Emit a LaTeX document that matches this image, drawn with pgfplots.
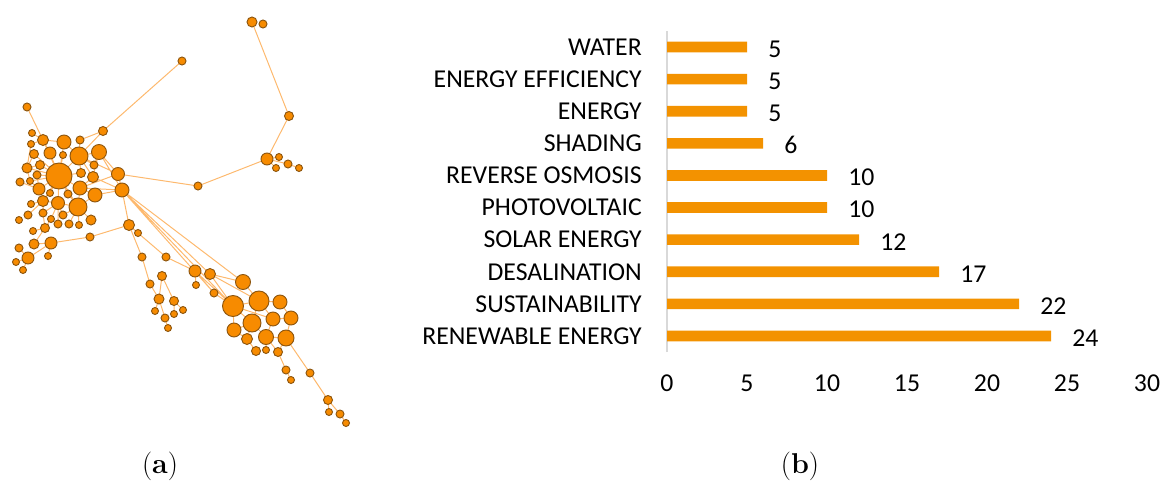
\documentclass[border=0pt]{standalone}
\usepackage{pgfplots}
\pgfplotsset{compat=1.18}
\usepackage{pgfplotstable}
\usepackage{fontspec}
\newfontfamily\calfont{Carlito}
\definecolor{nodefill}{RGB}{247,139,0}
\definecolor{nodedraw}{RGB}{140,85,15}
\definecolor{edgecol}{RGB}{253,185,110}
\definecolor{barcol}{RGB}{243,146,0}
\definecolor{axgray}{RGB}{217,217,217}

\pgfplotstableread{
x y r
27 107 4
103 131 4.5
32 133 3.5
43 140 5.5
64 142 7
80 140 4
31 144 3.5
34 154 4.5
50 153 6
79 156 9
99 152 7.5
63 155 3.5
40 165 4.5
27 168 5
94 165 4
59 176 13
37 175 4
81 173 4.5
93 177 5.5
118 174 6.5
20 182 4
30 181 3.5
39 189 6
80 188 7
50 193 3.5
68 194 4
95 195 7
122 190 7
43 201 5.5
58 203 6.5
78 207 9
31 204 3.5
28 215 4
43 213 4
63 215 4
51 219 3.5
19 220 3.5
91 220 5
58 224 4
69 224 4
79 225 3.5
45 228 4.5
33 231 3.5
129 225 5.5
138 233 3.5
51 243 6
34 244 5
19 248 4
28 258 6
48 256 3.5
16 262 3.5
23 270 3.5
90 237 4
182 61 4
252 22 5
263 24 4
289 116 4.5
267 159 6
279 157 3.5
288 164 4
299 168 3.5
276 168 3.5
198 186 4
142 257 4
166 257 4
162 276 4.5
150 284 4
159 299 5
174 301 4.5
155 311 3.5
165 318 4
174 314 3.5
183 310 3.5
168 328 3.5
195 271 6
210 274 5.5
196 285 3.5
214 293 4
243 282 7.5
233 306 10.5
259 301 10
280 302 7
273 319 7
291 318 7
252 323 9
234 330 7
247 339 5.5
266 337 7.5
286 338 8
256 351 4.5
266 350 3.5
278 352 4.5
286 370 4
291 380 3.5
310 373 4
328 400 4.5
329 412 3.5
340 414 4
346 423 3.5
}\nodetable

\begin{document}
\begin{tikzpicture}
\useasboundingbox (0,0) rectangle (873.75pt,-360.75pt);
\begin{axis}[at={(0pt,0pt)}, anchor=north west, scale only axis,
  width=270pt, height=330pt, xmin=0, xmax=360, ymin=0, ymax=440,
  y dir=reverse, hide axis, clip=false, unbounded coords=jump]
\addplot[edgecol, line width=0.75pt, no marks] coordinates {
(252,22)(289,116)(267,159)(198,186)(118,174) (nan,nan)
(267,159)(288,164)(299,168) (nan,nan)
(279,157)(267,159)(276,168) (nan,nan)
(182,61)(103,131)(79,156)(59,176) (nan,nan)
(103,131)(80,140)(79,156) (nan,nan)
(27,107)(43,140)(59,176) (nan,nan)
(64,142)(59,176)(50,153) (nan,nan)
(63,155)(59,176)(40,165) (nan,nan)
(37,175)(59,176)(81,173) (nan,nan)
(39,189)(59,176)(80,188) (nan,nan)
(50,193)(59,176)(68,194) (nan,nan)
(43,201)(59,176)(58,203) (nan,nan)
(78,207)(59,176)(34,154) (nan,nan)
(27,168)(59,176)(30,181) (nan,nan)
(64,142)(79,156)(80,140) (nan,nan)
(99,152)(79,156)(81,173) (nan,nan)
(93,177)(79,156)(94,165) (nan,nan)
(118,174)(79,156) (nan,nan)
(93,177)(99,152)(118,174) (nan,nan)
(94,165)(99,152)(122,190) (nan,nan)
(80,188)(78,207)(68,194) (nan,nan)
(95,195)(78,207)(63,215) (nan,nan)
(91,220)(78,207)(69,224) (nan,nan)
(79,225)(78,207)(58,203) (nan,nan)
(93,177)(80,188)(95,195) (nan,nan)
(122,190)(80,188)(118,174) (nan,nan)
(43,201)(58,203)(43,213) (nan,nan)
(63,215)(58,203)(51,219) (nan,nan)
(58,224)(58,203) (nan,nan)
(43,201)(39,189)(30,181) (nan,nan)
(20,182)(39,189)(37,175) (nan,nan)
(40,165)(27,168)(34,154) (nan,nan)
(30,181)(27,168)(31,144) (nan,nan)
(32,133)(43,140)(31,144) (nan,nan)
(64,142)(43,140)(50,153) (nan,nan)
(31,204)(43,201)(28,215) (nan,nan)
(43,213)(43,201) (nan,nan)
(43,213)(45,228)(33,231) (nan,nan)
(51,219)(45,228)(34,244) (nan,nan)
(93,177)(122,190)(118,174) (nan,nan)
(95,195)(122,190)(129,225)(90,237)(51,243)(34,244) (nan,nan)
(28,258)(51,243)(48,256) (nan,nan)
(19,248)(28,258)(16,262) (nan,nan)
(28,258)(23,270) (nan,nan)
(129,225)(142,257)(150,284)(159,299)(162,276)(174,301)(174,314) (nan,nan)
(174,301)(183,310) (nan,nan)
(155,311)(159,299)(165,318)(168,328) (nan,nan)
(129,225)(138,233)(166,257)(195,271)(233,306) (nan,nan)
(196,285)(195,271)(214,293)(233,306) (nan,nan)
(210,274)(122,190)(233,306) (nan,nan)
(243,282)(122,190)(214,293) (nan,nan)
(210,274)(233,306) (nan,nan)
(210,274)(243,282)(259,301)(233,306)(252,323)(234,330)(233,306)(273,319)(259,301)(280,302)(291,318)(273,319)(266,337)(252,323)(247,339)(234,330) (nan,nan)
(259,301)(252,323) (nan,nan)
(266,337)(286,338)(291,318) (nan,nan)
(247,339)(256,351) (nan,nan)
(266,337)(266,350) (nan,nan)
(266,337)(278,352)(286,338)(310,373)(328,400)(329,412) (nan,nan)
(328,400)(340,414)(346,423) (nan,nan)
(278,352)(286,370)(291,380) (nan,nan)
(210,274)(259,301)
};
\addplot[only marks, scatter, mark=*,
  scatter/use mapped color={draw=nodedraw, fill=nodefill},
  visualization depends on={0.75*\thisrow{r} \as \rr},
  scatter/@pre marker code/.append style={/tikz/mark size=\rr},
  mark options={line width=0.7pt}] table[x=x, y=y, meta=r] {\nodetable};
\end{axis}

\begin{axis}[at={(500.25pt,-23.25pt)}, anchor=north west, scale only axis,
  width=360pt, height=240.75pt,
  xbar, bar width=8pt, xmin=0, xmax=30, ymin=-0.5, ymax=9.5,
  xtick={0,5,...,30}, ytick={0,...,9},
  yticklabels={RENEWABLE ENERGY\hspace{4.5pt}, SUSTAINABILITY, DESALINATION\hspace{4.5pt}, SOLAR ENERGY\hspace{4.5pt}, PHOTOVOLTAIC, REVERSE OSMOSIS\hspace{4.5pt}, SHADING\hspace{4.5pt}, ENERGY\hspace{4.5pt}, ENERGY EFFICIENCY\hspace{4.5pt}, WATER},
  axis line style={draw=none}, major tick length=0pt,
  tick label style={font=\calfont\fontsize{19.3pt}{22pt}\selectfont},
  /pgf/number format/assume math mode=true,
  xticklabel style={anchor=north, inner sep=0pt, yshift=-17pt},
  yticklabel style={anchor=east, inner sep=0pt, xshift=-18.75pt},
  extra x ticks={0}, extra x tick labels={},
  extra x tick style={grid=major, major grid style={draw=axgray, line width=2pt}},
  nodes near coords,
  nodes near coords style={anchor=west, inner sep=0pt, xshift=15.75pt, yshift=-1.5pt, font=\calfont\fontsize{19.3pt}{22pt}\selectfont, text=black},
  ]
\addplot[fill=barcol, draw=none] coordinates {(24,0) (22,1) (17,2) (12,3) (10,4) (10,5) (6,6) (5,7) (5,8) (5,9)};
\end{axis}
\node[font=\fontsize{21.5pt}{24pt}\selectfont] at (120pt,-349.5pt) {(\textbf{a})};
\node[font=\fontsize{21.5pt}{24pt}\selectfont] at (600pt,-349.5pt) {(\textbf{b})};
\end{tikzpicture}
\end{document}
